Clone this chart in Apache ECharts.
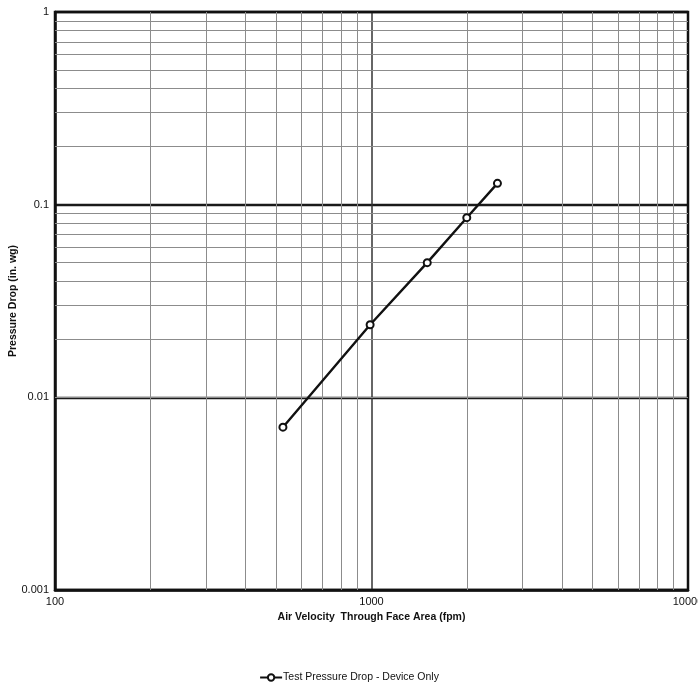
<!DOCTYPE html>
<html><head><meta charset="utf-8">
<script src="https://cdn.jsdelivr.net/npm/echarts@6/dist/echarts.min.js"></script>
<style>html,body{margin:0;padding:0;background:#fff}#c{width:698px;height:688px}</style>
</head><body><div id="c"></div>
<script>
var velocity = [525, 990, 1500, 2000, 2500];
var pressure = [0.0070, 0.0238, 0.050, 0.0856, 0.129];
var xTicks = [100, 1000, 10000];
var yTicks = [0.001, 0.01, 0.1, 1];
var xMinor = [200,300,400,500,600,700,800,900,2000,3000,4000,5000,6000,7000,8000,9000];
var yMinor = [0.002,0.003,0.004,0.005,0.006,0.007,0.008,0.009,0.02,0.03,0.04,0.05,0.06,0.07,0.08,0.09,0.2,0.3,0.4,0.5,0.6,0.7,0.8,0.9];
var seriesName = 'Test Pressure Drop - Device Only';
var FONT = "'Liberation Sans Narrow','Liberation Sans',Arial,sans-serif";

var minorLines = xMinor.map(function(v){return {xAxis:v};}).concat(yMinor.map(function(v){return {yAxis:v};}));

var chart = echarts.init(document.getElementById('c'), null, {renderer:'canvas'});
chart.setOption({
  animation:false,
  backgroundColor:'#fff',
  grid:{left:55, right:10, top:12, bottom:98, containLabel:false, outerBoundsMode:'none', show:true, borderColor:'#111', borderWidth:2.5, z:4},
  legend:{
    bottom:0, left:'center', itemWidth:22, itemHeight:8, itemGap:2,
    data:[{name:seriesName}],
    textStyle:{fontFamily:FONT, fontSize:10.5, color:'#111', padding:[0,0,0,-4]}
  },
  xAxis:{
    type:'log', logBase:10, min:xTicks[0], max:xTicks[xTicks.length-1],
    name:'Air Velocity  Through Face Area (fpm)', nameLocation:'middle', nameGap:22, nameMoveOverlap:false,
    nameTextStyle:{fontFamily:"'Liberation Sans',Arial,sans-serif", fontWeight:'bold', fontSize:10.5, color:'#111'},
    axisLine:{show:true, onZero:false, lineStyle:{color:'#111', width:2.5}},
    axisTick:{show:false},
    axisLabel:{fontFamily:FONT, fontSize:11, color:'#111', margin:6, formatter:function(v){return String(Math.round(v));}},
    splitLine:{show:true, lineStyle:{color:'#333', width:1.5}}
  },
  yAxis:{
    type:'log', logBase:10, min:yTicks[0], max:yTicks[yTicks.length-1],
    name:'Pressure Drop (in. wg)', nameLocation:'middle', nameGap:36, nameMoveOverlap:false,
    nameTextStyle:{fontFamily:"'Liberation Sans',Arial,sans-serif", fontWeight:'bold', fontSize:10.5, color:'#111'},
    axisLine:{show:true, onZero:false, lineStyle:{color:'#111', width:2.5}},
    axisTick:{show:false},
    axisLabel:{fontFamily:FONT, fontSize:11, color:'#111', margin:6, formatter:function(v){
      var s = yTicks.filter(function(t){return Math.abs(Math.log10(t)-Math.log10(v))<1e-6;});
      return s.length ? String(s[0]) : '';
    }},
    splitLine:{show:true, lineStyle:{color:'#1a1a1a', width:2.4}}
  },
  series:[
    {
      type:'line', data:[], silent:true, z:1,
      markLine:{silent:true, symbol:['none','none'], label:{show:false}, animation:false,
        lineStyle:{color:'#8c8c8c', width:1, type:'solid'}, data:minorLines}
    },
    {
      name:seriesName, type:'line', z:5,
      data:velocity.map(function(v,i){return [v, pressure[i]];}),
      symbol:'emptyCircle', symbolSize:7,
      lineStyle:{color:'#111', width:2.4},
      itemStyle:{color:'#111', borderWidth:1.5, borderColor:'#111'}
    }
  ]
});
</script></body></html>
